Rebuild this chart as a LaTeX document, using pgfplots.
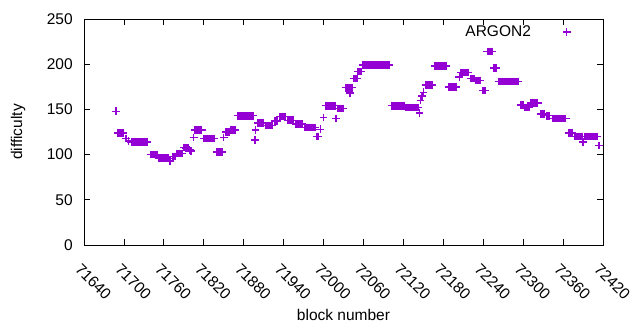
\documentclass[border=0pt]{standalone}
\usepackage{pgfplots}
\pgfplotsset{compat=1.18}
\usepackage{fontspec}
\setmainfont{Liberation Sans}
\definecolor{gpviolet}{HTML}{9400D3}
\begin{document}
\fontsize{15.5bp}{18bp}\selectfont
\begin{tikzpicture}
\path[use as bounding box] (-84bp,-85bp) rectangle (556bp,245bp);
\begin{axis}[
  at={(0,0)}, anchor=south west,
  scale only axis, width=519bp, height=226bp,
  xmin=71640, xmax=72420, ymin=0, ymax=250,
  xtick={71640,71700,71760,71820,71880,71940,72000,72060,72120,72180,72240,72300,72360,72420},
  ytick={0,50,100,150,200,250},
  scaled ticks=false,
  tick align=inside, major tick length=6bp, minor tick num=0,
  /pgf/number format/1000 sep={},
  /pgf/number format/assume math mode=true,
  xticklabel style={xshift=-2bp, yshift=-10bp, rotate=-45, anchor=north west},
  yticklabel style={xshift=-6bp},
  axis line style={line width=0.8bp},
  every tick/.style={black, line width=0.8bp},
  xlabel={block number}, ylabel={difficulty},
  every axis x label/.style={at={(axis description cs:0.5,0)}, yshift=-70bp, anchor=center},
  every axis y label/.style={at={(axis description cs:0,0.5)}, xshift=-66bp, rotate=90, anchor=center},
  legend style={draw=none, fill=none, at={(axis description cs:0.725,0.9425)}, anchor=west,
    /tikz/every odd column/.append style={column sep=30bp}},
  legend cell align=right, legend plot pos=right,
  legend image code/.code={\draw[#1] plot coordinates {(0bp,0bp)};},
]
\addplot[only marks, mark=+, mark size=3.8bp, gpviolet, line width=1.4bp] coordinates {
(71688,148)
(71691,124)(71693,124)(71695,124)(71697,124)(71699,124)
(71703,118)(71707,115)
(71711,114)(71713,114)(71715,114)(71717,114)(71719,114)(71721,114)(71723,114)(71725,114)(71727,114)(71729,114)(71731,114)(71733,114)(71735,114)
(71740,100)(71742,100)(71744,100)(71746,100)(71748,100)(71750,100)
(71753,96)(71755,96)(71757,96)(71759,96)(71761,96)(71763,96)(71765,96)(71767,96)
(71769,93)
(71773,98)(71775,98)(71777,98)
(71779,101)(71781,101)(71783,101)(71785,101)(71787,101)
(71790,108)(71793,107)(71796,108)(71799,105)(71801,104)
(71805,119)
(71807,127)(71809,127)(71811,127)(71813,127)(71815,127)(71817,127)
(71820,118)(71822,118)(71824,118)(71826,118)(71828,118)(71830,118)(71832,118)(71834,118)(71836,118)
(71840,103)(71842,103)(71844,103)(71846,103)(71848,103)
(71850,119)
(71853,125)(71855,125)(71857,125)(71859,125)
(71861,127)(71863,127)(71865,127)(71867,127)
(71871,143)(71873,143)(71875,143)(71877,143)(71879,143)(71881,143)(71883,143)(71885,143)(71887,143)(71889,143)(71891,143)(71893,143)(71895,143)
(71897,116)(71898,127)
(71901,135)(71903,135)(71905,135)(71907,135)(71909,135)
(71913,132)(71915,132)(71917,132)(71919,132)(71921,132)(71923,132)
(71926,137)(71928,137)(71930,137)
(71934,142)(71936,142)(71938,142)(71940,142)(71942,142)
(71946,138)(71948,138)(71950,138)(71952,138)(71954,138)
(71958,134)(71960,134)(71962,134)(71964,134)(71966,134)(71968,134)
(71971,130)(71973,130)(71975,130)(71977,130)(71979,130)(71981,130)(71983,130)(71985,130)(71987,130)
(71990,120)(71992,120)
(71995,128)(72000,141)
(72003,154)(72005,154)(72007,154)(72009,154)(72011,154)(72013,154)(72015,154)(72017,154)
(72019,140)
(72021,151)(72023,151)(72025,151)(72027,151)(72029,151)
(72033,174)(72035,174)(72037,174)(72039,174)(72041,174)(72043,174)
(72040,168)
(72046,184)(72048,184)(72050,184)
(72052,192)(72054,192)(72056,192)
(72059,199)(72061,199)(72063,199)(72065,199)(72067,199)(72069,199)(72071,199)(72073,199)(72075,199)(72077,199)(72079,199)(72081,199)(72083,199)(72085,199)(72087,199)(72089,199)(72091,199)(72093,199)(72095,199)(72097,199)(72099,199)
(72102,154)(72104,154)(72106,154)(72108,154)(72110,154)(72112,154)(72114,154)(72116,154)(72118,154)(72120,154)(72122,154)
(72124,152)(72126,152)(72128,152)(72130,152)(72132,152)(72134,152)(72136,152)(72138,152)(72140,152)(72142,152)
(72144,146)(72146,160)(72148,165)(72150,169)
(72153,177)(72155,177)(72157,177)(72159,177)(72161,177)(72163,177)
(72167,198)(72169,198)(72171,198)(72173,198)(72175,198)(72177,198)(72179,198)(72181,198)(72183,198)(72185,198)
(72188,175)(72190,175)(72192,175)(72194,175)(72196,175)(72198,175)(72200,175)
(72204,186)
(72206,191)(72208,191)(72210,191)(72212,191)(72214,191)(72216,191)(72218,191)
(72221,184)(72223,184)(72225,184)(72227,184)
(72229,182)(72231,182)(72233,182)(72235,182)
(72239,171)(72241,171)(72243,171)
(72246,214)(72248,214)(72250,214)(72252,214)(72254,214)
(72256,196)(72258,196)(72260,196)
(72263,181)(72265,181)(72267,181)(72269,181)(72271,181)(72273,181)(72275,181)(72277,181)(72279,181)(72281,181)(72283,181)(72285,181)(72287,181)(72289,181)(72291,181)(72293,181)
(72296,155)(72298,155)(72300,155)
(72303,152)(72305,152)(72307,152)(72309,152)
(72312,157)(72314,157)(72316,157)(72318,157)(72320,157)(72322,157)
(72326,145)(72328,145)(72330,145)(72332,145)
(72336,143)(72338,143)(72340,143)
(72344,140)(72346,140)(72348,140)(72350,140)(72352,140)(72354,140)(72356,140)(72358,140)(72360,140)(72362,140)(72364,140)
(72368,124)(72370,124)(72372,124)(72374,124)
(72377,120)(72379,120)(72381,120)(72383,120)(72385,120)(72387,120)(72389,120)
(72390,114)
(72393,120)(72395,120)(72397,120)(72399,120)(72401,120)(72403,120)(72405,120)(72407,120)(72409,120)(72411,120)
(72414,110)
};
\addlegendentry{ARGON2}
\end{axis}
\end{tikzpicture}
\end{document}
